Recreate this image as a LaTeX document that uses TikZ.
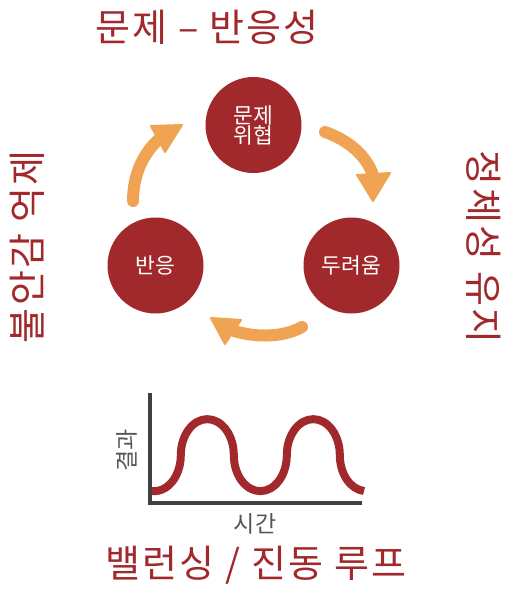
\documentclass[tikz,border=0pt]{standalone}
\usepackage{fontspec}
\setmainfont{Noto Sans CJK KR}
\usetikzlibrary{calc}
\definecolor{dred}{HTML}{A1292C}
\definecolor{orng}{HTML}{F0A352}
\definecolor{axgray}{HTML}{404040}
\definecolor{txgray}{HTML}{555555}
\newfontfamily\spaced[LetterSpace=6]{Noto Sans CJK KR}
\tikzset{
  bigtxt/.style={text=dred, font=\spaced\fontsize{38}{38}\selectfont, inner sep=0pt},
  stage/.style={circle, fill=dred, minimum size=96pt, inner sep=0pt, text=white, align=center,
    font=\fontsize{21.5}{22}\selectfont},
  shaft/.style={draw=orng, line width=12pt, line cap=round},
  ahead/.style={fill=orng, draw=orng, line width=2pt, line join=round},
  axis/.style={draw=axgray, line width=4.5pt},
  wave/.style={draw=dred, line width=8pt},
  axlbl/.style={text=txgray, font=\fontsize{23}{23}\selectfont, inner sep=0pt}
}
\begin{document}
\begin{tikzpicture}[x=1pt,y=-1pt]
\useasboundingbox (0,0) rectangle (505,589);
% titles
\node[bigtxt] (ttop) at (207,27) {문제 – 반응성};
\node[bigtxt, rotate=90] (tleft) at (27,247) {불안감 억제};
\node[bigtxt, rotate=-90] (tright) at (484,247) {정체성 유지};
\node[bigtxt] (tbot) at (256,565) {밸런싱 / 진동 루프};
% stages
\node[stage] (threat) at (253.5,125) {문제\\[-2pt]위협};
\node[stage] (fear) at (351.5,265.5) {두려움};
\node[stage] (resp) at (155.5,265.5) {반응};
% arrows
\coordinate (a1t) at (325,132); \coordinate (a1b) at (373,175);
\draw[shaft] (a1t) .. controls (348,140) and (366,155) .. (a1b);
\fill[ahead] (357,175) -- (390,173) -- (373,201) -- cycle;
\coordinate (a2t) at (302,327); \coordinate (a2b) at (234,331);
\draw[shaft] (a2t) .. controls (284,337) and (258,338) .. (a2b);
\fill[ahead] (211,318) -- (241,320) -- (225,344) -- cycle;
\coordinate (a3t) at (133,201); \coordinate (a3b) at (158,140);
\draw[shaft] (a3t) .. controls (133,178) and (141,156) .. (a3b);
\fill[ahead] (151,126) -- (182,125) -- (165,152) -- cycle;
% graph
\coordinate (org) at (150,503);
\coordinate (ytop) at (150,393);
\coordinate (xend) at (362,503);
\draw[axis] (ytop) -- (org) -- (xend);
\coordinate (w0) at (152,491);
\draw[wave] (w0) arc[start angle=95, end angle=0, x radius=26.5pt, y radius=-36pt]
  arc[start angle=180, end angle=0, x radius=26.5pt, y radius=36pt]
  arc[start angle=180, end angle=360, x radius=26.5pt, y radius=36pt]
  arc[start angle=180, end angle=0, x radius=26.5pt, y radius=36pt]
  arc[start angle=180, end angle=265, x radius=26.5pt, y radius=36pt];
\node[axlbl, rotate=90] (ylbl) at (127,450) {결과};
\node[axlbl] (xlbl) at (255,524) {시간};
\end{tikzpicture}
\end{document}
